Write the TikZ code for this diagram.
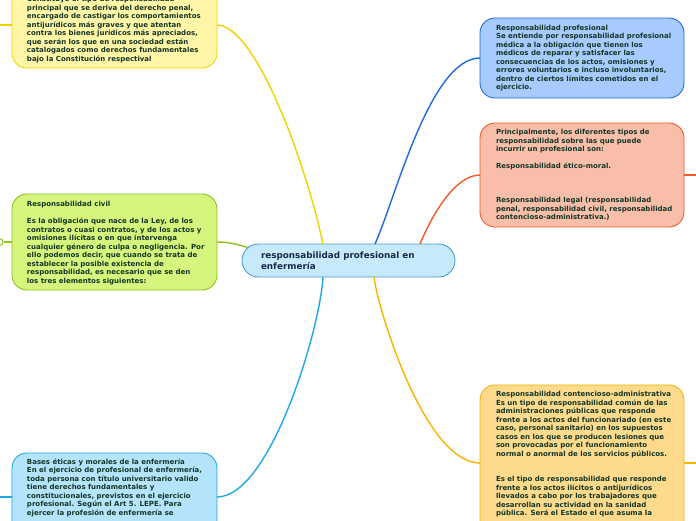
\documentclass[tikz,border=0pt]{standalone}
\usepackage{fontspec}
\setmainfont{DejaVu Sans}
\usetikzlibrary{calc}
\definecolor{txt}{HTML}{143626}
\definecolor{ctxt}{HTML}{182A4A}
\definecolor{yelF}{HTML}{FFF6A8}\definecolor{yelD}{HTML}{EED400}
\definecolor{grnF}{HTML}{D6F57C}\definecolor{grnD}{HTML}{8DC21F}
\definecolor{cyaF}{HTML}{B3E4FB}\definecolor{cyaD}{HTML}{1FA8E8}
\definecolor{cenF}{HTML}{C6EAFB}\definecolor{cenD}{HTML}{4B9CD3}
\definecolor{bluF}{HTML}{A8CBFF}\definecolor{bluD}{HTML}{1E6BDB}
\definecolor{salF}{HTML}{F9BEAA}\definecolor{salD}{HTML}{F25A28}
\definecolor{golF}{HTML}{FDDA8C}\definecolor{golD}{HTML}{F7B500}
\tikzset{
  mmbox/.style={draw, rounded corners=15pt, line width=0.9pt, inner sep=0pt, outer sep=0pt},
  mmtext/.style={anchor=north west, inner sep=0pt, outer sep=0pt, align=left, text=txt,
    font=\fontsize{7}{8.5}\selectfont\bfseries},
  link/.style={line width=1.4pt},
}
\begin{document}
\begin{tikzpicture}[x=1pt,y=-1pt]
\useasboundingbox (0,0) rectangle (696,520);
\clip (0,0) rectangle (696,520);
\fill[white] (0,0) rectangle (696,520);

% boxes
\node[mmbox, fill=yelF, draw=yelD, minimum width=205pt, minimum height=86pt] (yel) at (114.5,25) {};
\node[mmbox, fill=grnF, draw=grnD, minimum width=205pt, minimum height=96pt] (grn) at (114.5,242) {};
\node[mmbox, fill=cyaF, draw=cyaD, minimum width=205pt, minimum height=88pt] (cya) at (114.5,497) {};
\node[mmbox, fill=bluF, draw=bluD, minimum width=204pt, minimum height=80pt] (blu) at (582,58) {};
\node[mmbox, fill=salF, draw=salD, minimum width=204pt, minimum height=104pt] (sal) at (582,175) {};
\node[mmbox, fill=golF, draw=golD, minimum width=204pt, minimum height=156pt] (gol) at (582,463) {};
\node[mmbox, fill=cenF, draw=cenD, rounded corners=16.5pt, minimum width=213pt, minimum height=33pt] (cen) at (348.5,260.5) {};

% connectors
\draw[link, yelD] (yel.east) .. controls (255,25) and (305,160) .. ([xshift=-25.5pt]cen.north);
\draw[link, bluD] ([xshift=26.5pt]cen.north) .. controls (395,200) and (430,58) .. (blu.west);
\draw[link, salD] ([xshift=71.5pt]cen.north) .. controls (432,215) and (455,175) .. (sal.west);
\draw[link, grnD] (grn.east) .. controls (232,242) and (238,245) .. ([xshift=6pt,yshift=13pt]cen.west);
\draw[link, cyaD] ([xshift=-25.5pt]cen.south) .. controls (320,330) and (270,497) .. (cya.east);
\draw[link, golD] ([xshift=25.5pt]cen.south) .. controls (378,310) and (425,463) .. (gol.west);

% stubs to off-page children
\coordinate (yelL) at (-4,25);
\coordinate (cyaL) at (-4,497);
\coordinate (salR) at (700,175);
\coordinate (golR) at (700,463);
\draw[link, yelD] (yel.west) -- (yelL);
\draw[link, cyaD] (cya.west) -- (cyaL);
\draw[link, salD] (sal.east) -- (salR);
\draw[link, golD] (gol.east) -- (golR);
\node[circle, draw=grnD, line width=1pt, fill=white, minimum size=7pt, inner sep=0pt] (grnC) at (-0.5,242) {};
\draw[link, grnD] (grn.west) -- (grnC);

% texts
\node[mmtext] (tyel) at (27,-3.6) {Constituye el tipo de responsabilidad\\
principal que se deriva del derecho penal,\\
encargado de castigar los comportamientos\\
antijurídicos más graves y que atentan\\
contra los bienes jurídicos más apreciados,\\
que serán los que en una sociedad están\\
catalogados como derechos fundamentales\\
bajo la Constitución respectival};

\node[mmtext] (tgrn) at (27,201.6) {Responsabilidad civil\\[8.5pt]
Es la obligación que nace de la Ley, de los\\
contratos o cuasi contratos, y de los actos y\\
omisiones ilícitas o en que intervenga\\
cualquier género de culpa o negligencia. Por\\
ello podemos decir, que cuando se trata de\\
establecer la posible existencia de\\
responsabilidad, es necesario que se den\\
los tres elementos siguientes:};

\node[mmtext] (tcya) at (27,458.6) {Bases éticas y morales de la enfermería\\
En el ejercicio de profesional de enfermería,\\
toda persona con título universitario valido\\
tiene derechos fundamentales y\\
constitucionales, previstos en el ejercicio\\
profesional. Según el Art 5. LEPE. Para\\
ejercer la profesión de enfermería se};

\node[mmtext] (tblu) at (496,24.9) {Responsabilidad profesional\\
Se entiende por responsabilidad profesional\\
médica a la obligación que tienen los\\
médicos de reparar y satisfacer las\\
consecuencias de los actos, omisiones y\\
errores voluntarios e incluso involuntarios,\\
dentro de ciertos límites cometidos en el\\
ejercicio.};

\node[mmtext] (tsal) at (496,129.6) {Principalmente, los diferentes tipos de\\
responsabilidad sobre las que puede\\
incurrir un profesional son:\\[8.5pt]
Responsabilidad ético-moral.\\[25.5pt]
Responsabilidad legal (responsabilidad\\
penal, responsabilidad civil, responsabilidad\\
contencioso-administrativa.)};

\node[mmtext] (tgol) at (496,391.6) {Responsabilidad contencioso-administrativa\\
Es un tipo de responsabilidad común de las\\
administraciones públicas que responde\\
frente a los actos del funcionariado (en este\\
caso, personal sanitario) en los supuestos\\
casos en los que se producen lesiones que\\
son provocadas por el funcionamiento\\
normal o anormal de los servicios públicos.\\[17pt]
Es el tipo de responsabilidad que responde\\
frente a los actos ilícitos o antijurídicos\\
llevados a cabo por los trabajadores que\\
desarrollan su actividad en la sanidad\\
pública. Será el Estado el que asuma la};

\node[mmtext, text=ctxt, font=\fontsize{8.8}{11}\selectfont\bfseries] (tcen) at (261,251.7) {responsabilidad profesional en\\enfermería};
\end{tikzpicture}
\end{document}
